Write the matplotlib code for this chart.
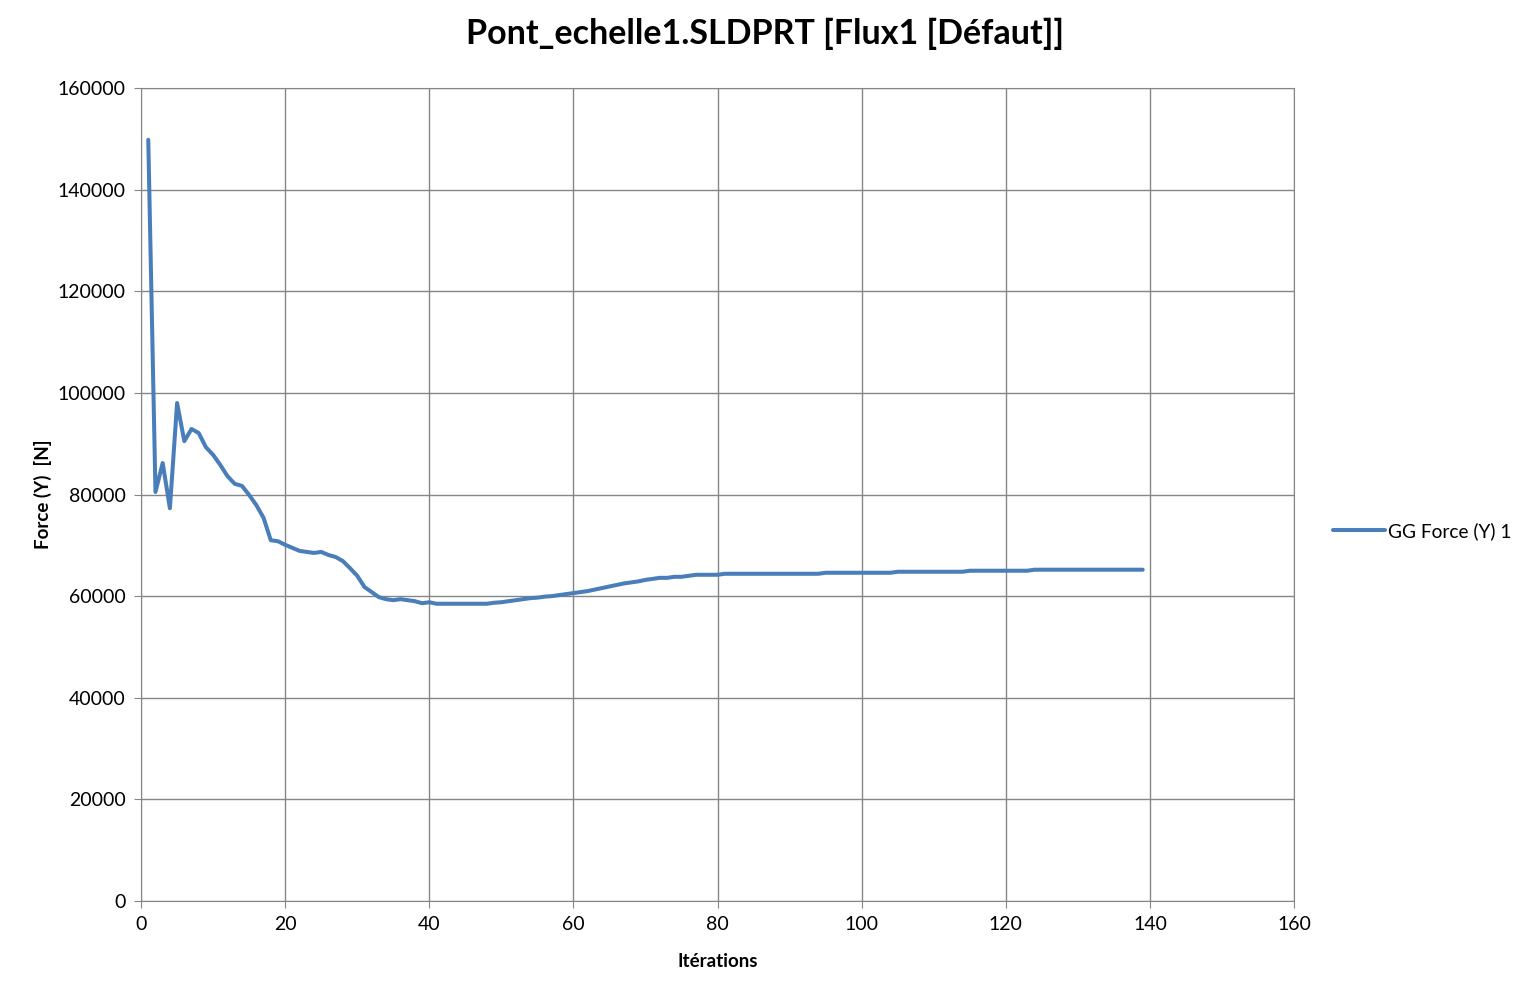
import matplotlib
matplotlib.use("Agg")
import matplotlib.pyplot as plt

plt.rcParams['font.family'] = ['Lato', 'DejaVu Sans']

# GG Force (Y) 1 per iteration
iterations = list(range(1, 140))
force_y = [
    149800, 80500, 86200, 77300, 98000, 90500, 92900, 92100, 89300, 87800,
    85800, 83600, 82100, 81700, 79900, 77900, 75400, 71000, 70800, 70100,
    69500, 68900, 68700, 68500, 68700, 68100, 67700, 66900, 65500, 64000,
    61800, 60800, 59800, 59400, 59200, 59400, 59200, 59000, 58600, 58800,
    58500, 58500, 58500, 58500, 58500, 58500, 58500, 58500, 58700, 58800,
    59000, 59200, 59400, 59600, 59700, 59900, 60000, 60200, 60400, 60600,
    60800, 61000, 61300, 61600, 61900, 62200, 62500, 62700, 62900, 63200,
    63400, 63600, 63600, 63800, 63800, 64000, 64200, 64200, 64200, 64200,
    64400, 64400, 64400, 64400, 64400, 64400, 64400, 64400, 64400, 64400,
    64400, 64400, 64400, 64400, 64600, 64600, 64600, 64600, 64600, 64600,
    64600, 64600, 64600, 64600, 64800, 64800, 64800, 64800, 64800, 64800,
    64800, 64800, 64800, 64800, 65000, 65000, 65000, 65000, 65000, 65000,
    65000, 65000, 65000, 65200, 65200, 65200, 65200, 65200, 65200, 65200,
    65200, 65200, 65200, 65200, 65200, 65200, 65200, 65200, 65200,
]

x_ticks = list(range(0, 161, 20))
y_ticks = list(range(0, 160001, 20000))

fig = plt.figure(figsize=(15.3, 9.99), dpi=100)
ax = fig.add_axes([0.0922, 0.0981, 0.7536, 0.8138])

ax.plot(iterations, force_y, color='#4a7ebb', linewidth=2.9,
        solid_joinstyle='round', solid_capstyle='round', label='GG Force (Y) 1')

ax.set_xlim(0, 160)
ax.set_ylim(0, 160000)
ax.set_xticks(x_ticks)
ax.set_yticks(y_ticks)
ax.grid(True, color='#868686', linewidth=1)
ax.set_axisbelow(True)
for s in ax.spines.values():
    s.set_color('#868686')
ax.tick_params(colors='#868686', labelcolor='black', labelsize=14,
               length=5, direction='out', pad=6)

ax.set_xlabel('Itérations', fontsize=13.5, fontweight='bold', labelpad=14)
ax.set_ylabel('Force (Y)  [N]', fontsize=13.5, fontweight='bold', labelpad=4)
fig.suptitle('Pont_echelle1.SLDPRT [Flux1 [Défaut]]', fontsize=24.5,
             fontweight='bold', y=0.982)

ax.legend(loc='center left', bbox_to_anchor=(1.034, 0.455), frameon=False,
          fontsize=13.8, handlelength=2.7, handletextpad=0.15,
          borderpad=0, borderaxespad=0)

fig.savefig('out.png', dpi=100)
